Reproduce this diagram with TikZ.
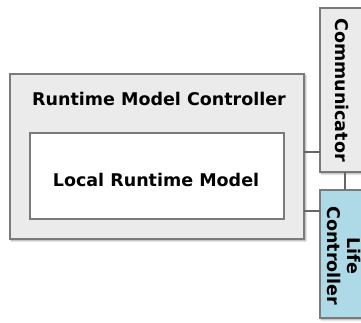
\documentclass[tikz,border=0pt]{standalone}
\usepackage{fontspec}
\setmainfont{DejaVu Sans}
\usetikzlibrary{shadows.blur}
\definecolor{boxfill}{HTML}{EBEBEB}
\definecolor{boxline}{HTML}{7A7A7A}
\definecolor{lifefill}{HTML}{ADDAE6}
\definecolor{conn}{HTML}{666666}
\begin{document}
\begin{tikzpicture}[x=1pt,y=-1pt,
  comp/.style={draw=boxline, line width=1.6pt, fill=boxfill,
    blur shadow={shadow xshift=1.5pt, shadow yshift=-1.5pt, shadow blur radius=2pt, shadow opacity=45}},
  inner/.style={draw=boxline, line width=1.6pt, fill=white},
  lbl/.style={font=\bfseries\fontsize{17.5}{20}\selectfont, inner sep=0pt},
  link/.style={draw=conn, line width=1.3pt}]
\useasboundingbox (0,0) rectangle (361,323);
\clip (0,0) rectangle (361,323);
\path[comp] (10,74) rectangle (304,239) coordinate (outerSE);
\coordinate (outerNW) at (10,74);
\node[lbl, anchor=base] (title) at (159,106) {Runtime Model Controller};
\path[inner] (30,133) rectangle (284,219);
\node[lbl, anchor=base] (local) at (156,186.7) {Local Runtime Model};
\path[comp] (320,8) rectangle (380,172);
\node[lbl, rotate=-90] (comm) at (342,90) {Communicator};
\path[comp, fill=lifefill] (320,190) rectangle (380,318);
\node[lbl, rotate=-90, align=center] (life) at (344,256) {Life\\Controller};
\coordinate (a1) at (304,152);
\coordinate (b1) at (320,152);
\coordinate (a2) at (304,211);
\coordinate (b2) at (320,211);
\coordinate (c1) at (345,172);
\coordinate (c2) at (345,190);
\draw[link] (a1) -- (b1);
\draw[link] (a2) -- (b2);
\draw[link] (c1) -- (c2);
\end{tikzpicture}
\end{document}
